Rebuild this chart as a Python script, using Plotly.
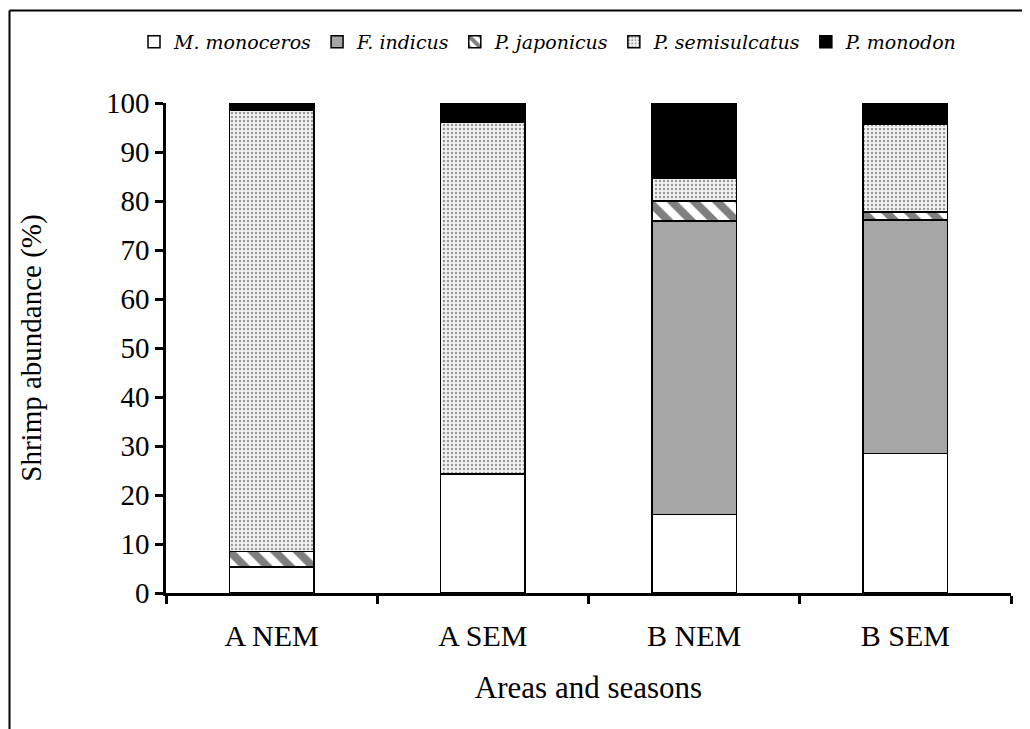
import plotly.graph_objects as go

categories = ["A NEM", "A SEM", "B NEM", "B SEM"]
species = ["M. monoceros", "F. indicus", "P. japonicus", "P. semisulcatus", "P. monodon"]
m_monoceros = [5.3, 24.3, 16.0, 28.5]
f_indicus = [0.0, 0.0, 59.9, 47.6]
p_japonicus = [3.2, 0.0, 4.1, 1.7]
p_semisulcatus = [90.0, 71.8, 4.7, 17.8]
p_monodon = [1.5, 3.9, 15.3, 4.4]
y_ticks = list(range(0, 101, 10))

series = [m_monoceros, f_indicus, p_japonicus, p_semisulcatus, p_monodon]
styles = [
    dict(color="white"),
    dict(color="#a6a6a6"),
    dict(color="white", pattern=dict(shape="\\", fgcolor="black", bgcolor="white", size=16, solidity=0.5)),
    dict(color="white", pattern=dict(shape=".", fgcolor="#444444", bgcolor="#f2f2f2", size=4, solidity=0.3)),
    dict(color="black"),
]

fig = go.Figure()
for name, vals, st in zip(species, series, styles):
    fig.add_trace(go.Bar(
        x=categories, y=vals, name="<i>" + name + "</i>",
        marker=dict(line=dict(color="black", width=1.5), **st),
    ))

font = "Liberation Serif, Times New Roman, serif"
L, R, T, B = 158, 27, 95, 144
PW, PH = 1030 - L - R, 729 - T - B
top_y = 1 + (T - 2.5) / PH
left_x = (1.5 - L) / PW
fig.update_layout(
    barmode="stack",
    bargap=0.6,
    width=1030, height=729,
    margin=dict(l=L, r=R, t=T, b=B, autoexpand=False),
    paper_bgcolor="white", plot_bgcolor="white",
    font=dict(family=font, size=29, color="black"),
    showlegend=True,
    legend=dict(orientation="h", traceorder="normal", x=(540 - L) / PW, xanchor="center",
                y=1 + (T - 34) / PH, yanchor="middle",
                font=dict(family="DejaVu Serif, serif", size=19), itemwidth=30,
                bgcolor="rgba(0,0,0,0)"),
    xaxis=dict(showline=True, linecolor="black", linewidth=2.5, ticks="outside",
               tickson="boundaries", ticklen=8, tickwidth=2.5, tickcolor="black",
               ticklabelstandoff=14,
               title=dict(text="Areas and seasons", font=dict(size=31), standoff=26),
               tickfont=dict(size=30), showgrid=False),
    yaxis=dict(range=[0, 100], tickvals=y_ticks, showline=True, linecolor="black", linewidth=2.5,
               ticks="outside", ticklen=8, tickwidth=2.5, tickcolor="black",
               title=dict(text="Shrimp abundance (%)", font=dict(size=29), standoff=56),
               tickfont=dict(size=29), showgrid=False, zeroline=False),
    shapes=[
        dict(type="line", xref="paper", yref="paper",
             x0=left_x, x1=left_x, y0=-0.4, y1=top_y,
             line=dict(color="black", width=2)),
        dict(type="line", xref="paper", yref="paper",
             x0=left_x, x1=(1025 - L) / PW, y0=top_y, y1=top_y,
             line=dict(color="black", width=2)),
    ],
)

fig.write_html("out.html")
